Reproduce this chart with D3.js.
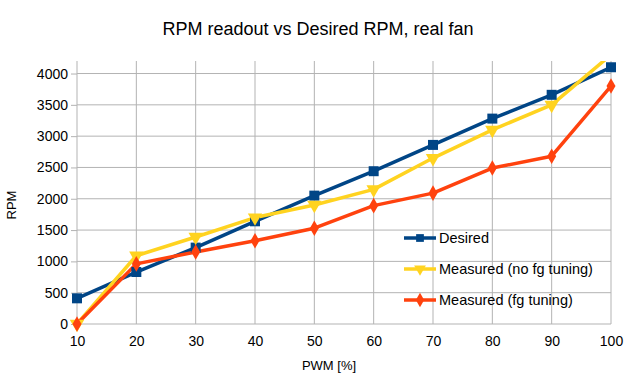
<!DOCTYPE html>
<html>
<head>
<meta charset="UTF-8">
<title>RPM readout</title>
<script src="https://d3js.org/d3.v7.min.js"></script>
<style>
    body { margin: 0; background: #fff; }
    svg { font-family: "Liberation Sans", Arial, sans-serif; }
    .grid line { stroke: #b3b3b3; stroke-width: 1; }
    .axis text { font-size: 14px; fill: #000; }
    .axis path { display: none; }
    .axis line { stroke: #b3b3b3; }
</style>
</head>
<body>
<svg></svg>
<script>
    const pwm = [10, 20, 30, 40, 50, 60, 70, 80, 90, 100];
    const desired = [410, 830, 1220, 1640, 2050, 2440, 2860, 3280, 3660, 4100];
    const noFgTuning = [0, 1090, 1390, 1700, 1900, 2150, 2650, 3100, 3500, 4300];
    const fgTuning = [0, 960, 1150, 1330, 1530, 1890, 2090, 2490, 2680, 3800];
    const yTicks = [0, 500, 1000, 1500, 2000, 2500, 3000, 3500, 4000];

    const series = [
        { name: 'Desired', values: desired, color: '#004586', symbol: d3.symbolSquare, size: 100 },
        { name: 'Measured (no fg tuning)', values: noFgTuning, color: '#ffd320', symbol: 'tri', size: 90 },
        { name: 'Measured (fg tuning)', values: fgTuning, color: '#ff420e', symbol: d3.symbolDiamond, size: 70 }
    ];

    const W = 636, H = 377;
    const margin = { top: 61, right: 25, bottom: 53, left: 77 };
    const width = W - margin.left - margin.right,
          height = H - margin.top - margin.bottom;

    const svg = d3.select('svg').attr('width', W).attr('height', H);
    const g = svg.append('g').attr('transform', `translate(${margin.left},${margin.top})`);

    const x = d3.scaleLinear().domain([10, 100]).range([0, width]);
    const y = d3.scaleLinear().domain([0, 4200]).range([height, 0]);

    // grid
    g.append('g').attr('class', 'grid')
        .selectAll('line').data(yTicks).enter().append('line')
        .attr('x1', 0).attr('x2', width)
        .attr('y1', d => y(d)).attr('y2', d => y(d));
    g.append('g').attr('class', 'grid')
        .selectAll('line').data(pwm).enter().append('line')
        .attr('x1', d => x(d)).attr('x2', d => x(d))
        .attr('y1', 0).attr('y2', height);

    g.append('g').attr('class', 'axis')
        .attr('transform', `translate(0,${height})`)
        .call(d3.axisBottom(x).tickValues(pwm).tickSize(0).tickPadding(12));
    g.append('g').attr('class', 'axis')
        .call(d3.axisLeft(y).tickValues(yTicks).tickFormat(d3.format('d')).tickSize(6).tickPadding(3));

    g.append('defs').append('clipPath').attr('id', 'clip')
        .append('rect').attr('width', width).attr('height', height);

    function markerPath(s, size) {
        const type = s.symbol === 'tri' ? d3.symbolTriangle : s.symbol;
        return d3.symbol().type(type).size(size)();
    }
    const flip = s => s.symbol === 'tri' ? ' rotate(180)' : '';

    const line = d3.line().x((d, i) => x(pwm[i])).y(d => y(d));

    series.forEach(s => {
        g.append('g').attr('clip-path', 'url(#clip)')
            .append('path')
            .datum(s.values)
            .attr('fill', 'none')
            .attr('stroke', s.color)
            .attr('stroke-width', 3.5)
            .attr('stroke-linejoin', 'round')
            .attr('d', line);
    });
    series.forEach(s => {
        g.append('g').selectAll('path').data(s.values).enter().append('path')
            .attr('d', markerPath(s, s.size))
            .attr('fill', s.color)
            .attr('transform', (d, i) => `translate(${x(pwm[i])},${y(d)})` + flip(s))
            .style('display', d => y(d) < 0 ? 'none' : null);
    });

    // legend
    const legend = svg.append('g').attr('transform', 'translate(404,238)');
    series.forEach((s, i) => {
        const lg = legend.append('g').attr('transform', `translate(0,${i * 31})`);
        lg.append('line').attr('x1', 0).attr('x2', 32).attr('y1', 0).attr('y2', 0)
            .attr('stroke', s.color).attr('stroke-width', 3.5);
        lg.append('path').attr('d', markerPath(s, 60))
            .attr('fill', s.color)
            .attr('transform', 'translate(16,0)' + flip(s));
        lg.append('text').attr('x', 35).attr('y', 5).style('font-size', '14.5px').text(s.name);
    });

    svg.append('text')
        .attr('x', 318).attr('y', 35)
        .attr('text-anchor', 'middle')
        .style('font-size', '18px')
        .text('RPM readout vs Desired RPM, real fan');

    svg.append('text')
        .attr('transform', 'translate(16,205) rotate(-90)')
        .attr('text-anchor', 'middle')
        .style('font-size', '13px')
        .text('RPM');

    svg.append('text')
        .attr('x', 329).attr('y', 370)
        .attr('text-anchor', 'middle')
        .style('font-size', '13px')
        .text('PWM [%]');
</script>
</body>
</html>
